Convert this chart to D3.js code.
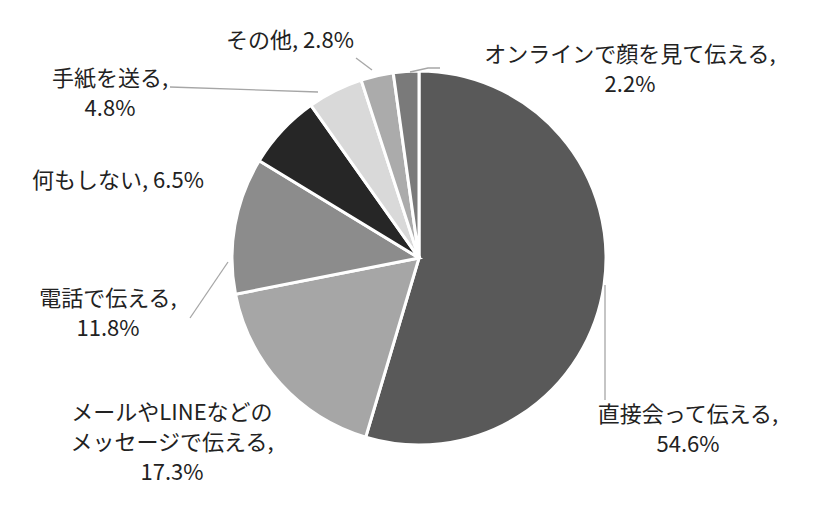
<!DOCTYPE html>
<html><head><meta charset="utf-8">
<script src="https://cdn.jsdelivr.net/npm/d3@7"></script>
<style>body{margin:0;background:#fff}text{font-family:"Noto Sans CJK JP","Noto Sans",sans-serif;font-size:22px;fill:#222}</style>
</head><body><svg id="c" width="840" height="522"></svg>
<script>
const categories=["直接会って伝える","メールやLINEなどのメッセージで伝える","電話で伝える","何もしない","手紙を送る","その他","オンラインで顔を見て伝える"];
const values=[54.6,17.3,11.8,6.5,4.8,2.8,2.2];
const colors=["#595959","#a6a6a6","#8c8c8c","#262626","#d9d9d9","#ababab","#7a7a7a"];
const labelLines=[["直接会って伝える,","54.6%"],["メールやLINEなどの","メッセージで伝える,","17.3%"],["電話で伝える,","11.8%"],["何もしない, 6.5%"],["手紙を送る,","4.8%"],["その他, 2.8%"],["オンラインで顔を見て伝える,","2.2%"]];
const labelPos=[[688,422],[172,420],[108,306],[118,188],[110,86],[290,48],[630,62]];
const leaders=[[[605,285],[605,400]],null,[[228,262],[190,318]],null,[[318,92],[170,87]],[[372,70],[356,58]],[[410,72],[428,68],[440,68]]];
const svg=d3.select("#c");
const cx=419,cy=258,r=187;
const pie=d3.pie().sort(null)(values);
const arc=d3.arc().innerRadius(0).outerRadius(r);
const g=svg.append("g").attr("transform",`translate(${cx},${cy})`);
g.selectAll("path").data(pie).join("path").attr("d",arc).attr("fill",(d,i)=>colors[i]).attr("stroke","#fff").attr("stroke-width",3);
leaders.forEach(l=>{if(l)svg.append("path").attr("d",d3.line()(l)).attr("fill","none").attr("stroke","#a6a6a6").attr("stroke-width",1.3);});
labelLines.forEach((ls,i)=>{const t=svg.append("text").attr("text-anchor","middle");
ls.forEach((s,j)=>t.append("tspan").attr("x",labelPos[i][0]).attr("y",labelPos[i][1]+j*30).text(s));});
</script></body></html>
